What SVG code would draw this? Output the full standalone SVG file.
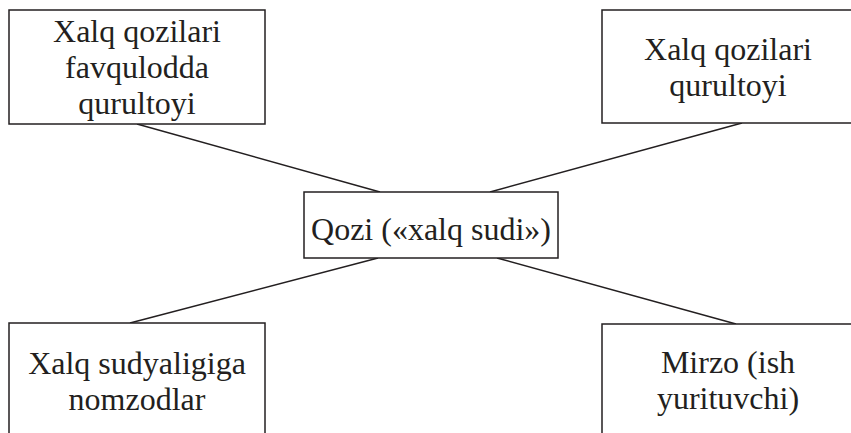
<svg xmlns="http://www.w3.org/2000/svg" width="851" height="433" viewBox="0 0 851 433">
<style>
.box{fill:#fff;stroke:#231f20;stroke-width:1.5}
.lbl{font-family:'Liberation Serif','DejaVu Serif','Times New Roman',serif;font-size:32px;fill:#231f20;text-anchor:middle}
.conn{stroke:#231f20;stroke-width:1.5;fill:none}
</style>
<rect width="851" height="433" fill="#fff"/>
<g id="connectors">
<line class="conn" x1="137" y1="124" x2="380" y2="192"/>
<line class="conn" x1="742" y1="123" x2="490" y2="192"/>
<line class="conn" x1="130" y1="323" x2="378" y2="258"/>
<line class="conn" x1="736" y1="324" x2="497" y2="258"/>
</g>
<g id="node-top-left">
<rect class="box" x="9" y="10" width="256" height="114"/>
<text class="lbl" x="137" y="42" font-family="Liberation Serif, serif">Xalq qozilari</text>
<text class="lbl" x="137" y="78" font-family="Liberation Serif, serif">favqulodda</text>
<text class="lbl" x="137" y="114" font-family="Liberation Serif, serif">qurultoyi</text>
</g>
<g id="node-top-right">
<rect class="box" x="602" y="10" width="254" height="113"/>
<text class="lbl" x="728" y="60" font-family="Liberation Serif, serif">Xalq qozilari</text>
<text class="lbl" x="728" y="96" font-family="Liberation Serif, serif">qurultoyi</text>
</g>
<g id="node-center">
<rect class="box" x="304" y="192" width="254" height="66"/>
<text class="lbl" x="431" y="240" font-family="Liberation Serif, serif">Qozi («xalq sudi»)</text>
</g>
<g id="node-bottom-left">
<rect class="box" x="9" y="323" width="256" height="120"/>
<text class="lbl" x="137" y="374" font-family="Liberation Serif, serif">Xalq sudyaligiga</text>
<text class="lbl" x="137" y="410" font-family="Liberation Serif, serif">nomzodlar</text>
</g>
<g id="node-bottom-right">
<rect class="box" x="602" y="324" width="254" height="120"/>
<text class="lbl" x="728" y="373" font-family="Liberation Serif, serif">Mirzo (ish</text>
<text class="lbl" x="728" y="409" font-family="Liberation Serif, serif">yurituvchi)</text>
</g>
</svg>
